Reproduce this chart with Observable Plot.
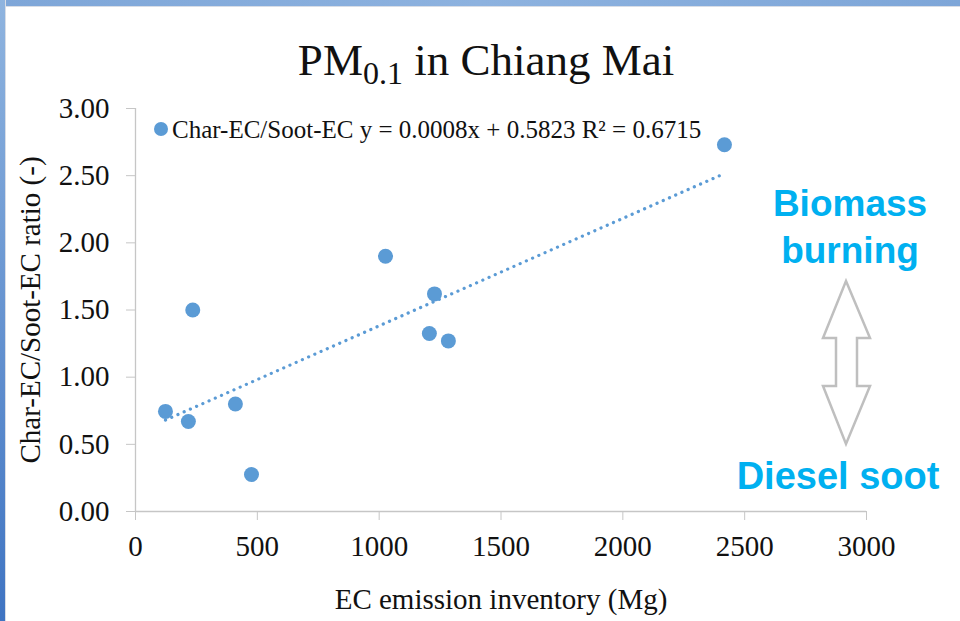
<!DOCTYPE html>
<html>
<head>
<meta charset="utf-8">
<script src="https://cdn.jsdelivr.net/npm/d3@7"></script>
<script src="https://cdn.jsdelivr.net/npm/@observablehq/plot@0.6"></script>
<style>
  html, body { margin: 0; padding: 0; background: #ffffff; }
  #page { position: relative; width: 960px; height: 621px; overflow: hidden; background: #ffffff; }
  #topband { position: absolute; left: 0; top: 0; width: 960px; height: 6px; background: linear-gradient(90deg, #7ea6d8, #8db2df 50%, #7ea6d8); border-bottom: 1px solid #d8dde6; }
  #leftband { position: absolute; left: 0; top: 0; width: 5px; height: 621px; background: linear-gradient(180deg, #8fb4df, #3f74c2); border-right: 1px solid #d8dde6; }
  #title { position: relative; height: 92px; font-family: "Liberation Serif", "Times New Roman", serif; color: #111; }
  #title span.main { position: absolute; left: 0; width: 972px; text-align: center; top: 37px; font-size: 45px; line-height: 46px; white-space: nowrap; }
  #title sub { font-size: 32px; vertical-align: -9px; line-height: 0; }
  #chart svg { display: block; }
  #chart svg text { font-family: "Liberation Serif", "Times New Roman", serif !important; }
  .overlay { position: absolute; white-space: nowrap; }
  #legend { left: 154px; top: 116px; font-family: "Liberation Serif", "Times New Roman", serif; font-size: 25px; line-height: 28px; color: #111; }
  #legend i { display: inline-block; width: 14px; height: 14px; border-radius: 50%; background: #5B9BD5; margin-right: 4px; vertical-align: 2px; }
  .note { font-family: "Liberation Sans", Arial, sans-serif; font-weight: bold; color: #00B0F0; text-align: center; }
  #biomass { left: 750px; width: 200px; top: 180px; font-size: 37px; line-height: 47px; }
  #diesel { left: 718px; width: 240px; top: 456px; font-size: 38px; line-height: 40px; }
  #arrow { position: absolute; left: 0; top: 0; }
</style>
</head>
<body>
<div id="page">
  <div id="topband"></div>
  <div id="leftband"></div>
  <div id="title"><span class="main">PM<sub>0.1</sub> in Chiang Mai</span></div>
  <div id="chart"></div>
  <div id="legend" class="overlay"></div>
  <div id="biomass" class="overlay note">Biomass<br>burning</div>
  <div id="diesel" class="overlay note">Diesel soot</div>
  <svg id="arrow" width="960" height="621">
    <path d="M846,281 L870,338 L857,338 L857,386 L870,386 L846,444 L823,386 L836,386 L836,338 L823,338 Z" fill="none" stroke="#bfbfbf" stroke-width="2.5" stroke-linejoin="miter"/>
  </svg>
</div>
<script>
// ---- data ----
const seriesName = "Char-EC/Soot-EC";
const ecInventory = [123, 217, 235, 410, 476, 1026, 1206, 1227, 1284, 2417];   // Mg
const charSootRatio = [0.745, 0.67, 1.50, 0.80, 0.275, 1.90, 1.325, 1.62, 1.27, 2.73];
const trendSlope = 0.0008;
const trendIntercept = 0.5823;
const trendR2 = 0.6715;
const xTicks = [0, 500, 1000, 1500, 2000, 2500, 3000];
const yTicks = [0, 0.5, 1, 1.5, 2, 2.5, 3];

const points = ecInventory.map((x, i) => ({x, y: charSootRatio[i]}));
const xMin = d3.min(ecInventory), xMax = d3.max(ecInventory);
const trend = [xMin, xMax].map(x => ({x, y: trendSlope * x + trendIntercept}));

const serif = "'Liberation Serif', 'Times New Roman', serif";
const chart = Plot.plot({
  width: 960,
  height: 529,
  marginTop: 16,
  marginLeft: 135,
  marginRight: 94,
  marginBottom: 110,
  style: {fontFamily: serif, color: "#111", background: "transparent", overflow: "visible"},
  x: {domain: [0, 3000]},
  y: {domain: [0, 3]},
  marks: [
    Plot.ruleY([0], {stroke: "#c6c6c6", strokeWidth: 1.3}),
    Plot.ruleX([0], {stroke: "#c6c6c6", strokeWidth: 1.3}),
    Plot.axisX({ticks: xTicks, tickFormat: d => String(d), tickSize: 9, tickPadding: 15, stroke: "#c6c6c6",
      fontFamily: serif, fontSize: 29, label: "EC emission inventory (Mg)", labelAnchor: "center", labelArrow: "none", labelOffset: 97}),
    Plot.axisY({ticks: yTicks, tickFormat: d => d.toFixed(2), tickSize: 9, tickPadding: 17, stroke: "#c6c6c6",
      fontFamily: serif, fontSize: 29, label: "Char-EC/Soot-EC ratio (-)", labelAnchor: "center", labelArrow: "none", labelOffset: 116}),
    Plot.line(trend, {x: "x", y: "y", stroke: "#5B9BD5", strokeWidth: 3.2, strokeDasharray: "0.1 6.7", strokeLinecap: "round"}),
    Plot.dot(points, {x: "x", y: "y", r: 7.5, fill: "#5B9BD5", stroke: "none"})
  ]
});
document.getElementById("chart").appendChild(chart);

document.getElementById("legend").innerHTML =
  `<i></i>${seriesName} y = ${trendSlope.toFixed(4)}x + ${trendIntercept.toFixed(4)} R² = ${trendR2.toFixed(4)}`;
</script>
</body>
</html>
